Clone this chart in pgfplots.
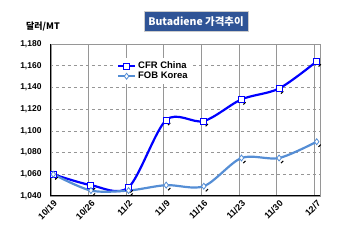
\documentclass[border=0pt]{standalone}
\usepackage{fontspec}
\setmainfont{Liberation Sans}
\newfontfamily\kr{Noto Sans CJK KR}
\usepackage{pgfplots}
\pgfplotsset{compat=1.18}
\definecolor{cfr}{RGB}{0,0,255}
\definecolor{fob}{RGB}{85,142,213}
\definecolor{titlebg}{RGB}{47,84,150}
\definecolor{gridc}{RGB}{150,150,150}
\begin{document}
\begin{tikzpicture}
\useasboundingbox (0,0) rectangle (350bp,240bp);
\begin{axis}[at={(50bp,44bp)}, anchor=south west, scale only axis,
  width=270bp, height=152bp,
  xmin=-0.088, xmax=7.088, ymin=1040, ymax=1180,
  xtick={-0.06,0.94,1.94,2.94,3.94,4.94,5.94,6.94},
  xticklabels={10/19,10/26,11/2,11/9,11/16,11/23,11/30,12/7},
  xticklabel style={rotate=45, anchor=north east, font=\bfseries\fontsize{9}{10}\selectfont, inner sep=1pt, yshift=-3bp},
  ytick={1040,1060,1080,1100,1120,1140,1160,1180},
  yticklabel style={font=\bfseries\fontsize{8.5}{10}\selectfont, xshift=-5bp},
  /pgf/number format/.cd, 1000 sep={,}, assume math mode=true, /pgfplots/.cd,
  xmajorgrids, ymajorgrids,
  x grid style={gridc, line width=0.9pt},
  y grid style={gridc, dashed, line width=0.6pt},
  tick style={draw=none},
  axis line style={gridc, line width=0.9pt},
  legend style={at={(0.24,0.91)}, anchor=north west, draw=none, fill=white,
    font=\bfseries\fontsize{9.5}{10}\selectfont, row sep=-2pt, inner sep=2pt},
  legend cell align=left,
]
% shadows
\addplot[only marks, mark=-, black, forget plot, mark options={xshift=3bp, yshift=-4bp, rotate=45, scale=0.8, line width=1pt}]
  coordinates {(0,1060)(1,1050)(2,1048)(3,1110)(4,1109)(5,1129)(6,1139)(7,1164)};
\addplot[only marks, mark=-, black, forget plot, mark options={xshift=3bp, yshift=-4bp, rotate=45, scale=0.8, line width=1pt}]
  coordinates {(0,1060)(1,1045)(2,1045)(3,1050)(4,1049)(5,1075)(6,1075)(7,1090)};
\addplot[cfr, line width=2.2pt, smooth, mark=square*, mark size=3bp,
  mark options={fill=white, draw=cfr, line width=1pt, solid}]
  coordinates {(0,1060)(1,1050)(2,1048)(3,1110)(4,1109)(5,1129)(6,1139)(7,1164)};
\addlegendentry{CFR China}
\addplot[fob, line width=2.2pt, smooth, mark=diamond*, mark size=3bp,
  mark options={fill=white, draw=fob, line width=0.8pt, solid}]
  coordinates {(0,1060)(1,1045)(2,1045)(3,1050)(4,1049)(5,1075)(6,1075)(7,1090)};
\addlegendentry{FOB Korea}
\draw[black, line width=1.2pt] (rel axis cs:0,1) -- (rel axis cs:0,0) -- (rel axis cs:1,0);
\end{axis}
\node[fill=titlebg, draw=gray!40, line width=1pt, text=white,
  font=\kr\bfseries\fontsize{10.5}{11}\selectfont, minimum width=104bp, minimum height=20bp, inner sep=0pt]
  at (196bp,218bp) {Butadiene 가격추이};
\node[font=\kr\bfseries\fontsize{9}{10}\selectfont] at (43bp,213bp) {달러/MT};
\end{tikzpicture}
\end{document}
